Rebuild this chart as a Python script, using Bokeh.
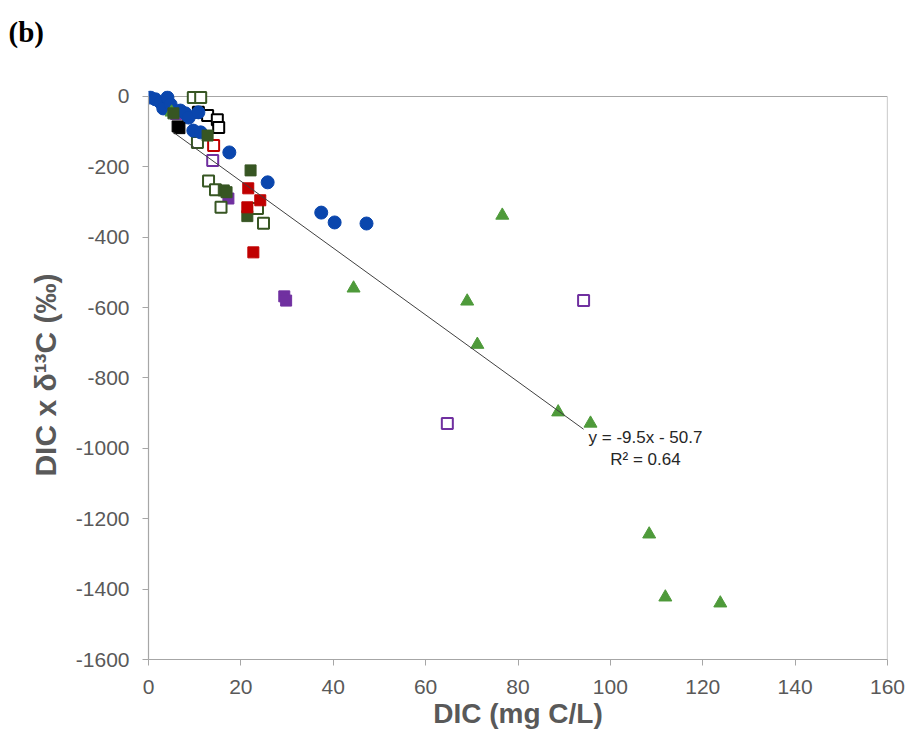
from bokeh.plotting import figure
from bokeh.models import Label, Range1d, FixedTicker, Title
from bokeh.embed import file_html
from bokeh.resources import INLINE

# ---- data ----
blue_x = [0.4, 1.5, 2.6, 3.2, 4.1, 4.8, 6.9, 8.0, 8.7, 9.7, 11.3, 10.8, 17.5, 25.8, 37.4, 40.3, 47.2]
blue_y = [-3, -8, -17, -34, -3, -23, -40, -48, -60, -97, -102, -45, -159, -244, -330, -358, -361]

tri_x = [5.0, 44.4, 69.0, 71.2, 76.6, 88.7, 95.7, 108.4, 111.9, 123.8]
tri_y = [-45, -545, -582, -705, -338, -897, -929, -1244, -1423, -1440]

dgreen_fill_x = [5.4, 12.8, 16.3, 16.9, 21.4, 22.1]
dgreen_fill_y = [-48, -111, -267, -272, -340, -210]

dgreen_open_x = [9.7, 11.3, 10.6, 13.0, 14.5, 15.7, 23.6, 24.9]
dgreen_open_y = [-3, -3, -131, -240, -265, -315, -318, -360]

red_fill_x = [21.6, 24.2, 21.4, 22.7]
red_fill_y = [-261, -295, -315, -443]
red_open_x = [14.1]
red_open_y = [-139]

purple_fill_x = [6.0, 17.3, 29.4, 29.8]
purple_fill_y = [-50, -290, -568, -580]
purple_open_x = [13.9, 94.2, 64.7]
purple_open_y = [-182, -580, -929]

black_fill_x = [6.3, 6.7]
black_fill_y = [-85, -90]
black_open_x = [10.8, 12.8, 14.9, 15.2]
black_open_y = [-45, -54, -66, -88]

slope = -9.5
intercept = -50.7
fit_x = [5.3, 94.2]
fit_y = [slope * v + intercept for v in fit_x]

x_ticks = [0, 20, 40, 60, 80, 100, 120, 140, 160]
y_ticks = [0, -200, -400, -600, -800, -1000, -1200, -1400, -1600]

X_MIN, X_MAX = x_ticks[0], x_ticks[-1]
Y_MIN, Y_MAX = y_ticks[-1], y_ticks[0]
Y_PAD = 17  # headroom so markers at y~0 are not clipped

# ---- figure ----
p = figure(width=911, height=742, output_backend="svg", toolbar_location=None,
           x_range=Range1d(X_MIN, X_MAX), y_range=Range1d(Y_MIN, Y_MAX + Y_PAD),
           min_border_left=148, min_border_right=24, min_border_top=90, min_border_bottom=83)

p.xgrid.visible = False
p.ygrid.visible = False
p.outline_line_color = None
p.background_fill_color = "white"
p.border_fill_color = "white"

FONT = "Liberation Sans"
GRAY = "#595959"
FRAME = "#a6a6a6"
for ax in (p.xaxis[0], p.yaxis[0]):
    ax.axis_line_color = FRAME
    ax.axis_line_width = 1.2
    ax.major_tick_line_color = FRAME
    ax.major_tick_in = 0
    ax.major_tick_out = 6
    ax.minor_tick_line_color = None
    ax.major_label_text_font = FONT
    ax.major_label_text_font_size = "21px"
    ax.major_label_text_color = GRAY
    ax.axis_label_text_font = FONT
    ax.axis_label_text_font_style = "bold"
    ax.axis_label_text_color = GRAY

p.xaxis.axis_label_text_font_size = "28px"
p.yaxis.axis_label_text_font_size = "30px"

p.xaxis.ticker = FixedTicker(ticks=x_ticks)
p.yaxis.ticker = FixedTicker(ticks=y_ticks)
p.yaxis.bounds = (Y_MIN, Y_MAX)
p.yaxis.major_label_overrides = {t: str(t) for t in y_ticks}
p.xaxis.axis_label = "DIC (mg C/L)"
p.yaxis.axis_label = "DIC x δ¹³C (‰)"
p.xaxis.major_label_standoff = 14
p.yaxis.major_label_standoff = 13
p.xaxis.axis_label_standoff = 1
p.yaxis.axis_label_standoff = 11

# plot-area border (top and right)
p.line([X_MIN, X_MAX, X_MAX], [Y_MAX, Y_MAX, Y_MIN], line_color=FRAME, line_width=1.2)

BLUE = "#0a46ad"
TGREEN = "#4e9a3a"
DGREEN = "#375623"
RED = "#c00000"
PURPLE = "#7030a0"

p.scatter(purple_fill_x, purple_fill_y, marker="square", size=11, fill_color=PURPLE, line_color=PURPLE)
p.scatter(dgreen_open_x, dgreen_open_y, marker="square", size=11, fill_color="white",
          line_color=DGREEN, line_width=2)
p.scatter(black_open_x, black_open_y, marker="square", size=11, fill_color="white",
          line_color="black", line_width=2)
p.scatter(red_open_x, red_open_y, marker="square", size=11, fill_color="white",
          line_color=RED, line_width=2)
p.scatter(purple_open_x, purple_open_y, marker="square", size=11, fill_color="white",
          line_color=PURPLE, line_width=2)
p.scatter(blue_x, blue_y, marker="circle", size=13, fill_color=BLUE, line_color=BLUE)
p.scatter(tri_x, tri_y, marker="triangle", size=13, fill_color=TGREEN, line_color=TGREEN)
p.scatter(dgreen_fill_x, dgreen_fill_y, marker="square", size=11, fill_color=DGREEN, line_color=DGREEN)
p.scatter(red_fill_x, red_fill_y, marker="square", size=11, fill_color=RED, line_color=RED)
p.scatter(black_fill_x, black_fill_y, marker="square", size=11, fill_color="black", line_color="black")

p.line(fit_x, fit_y, line_color="#404040", line_width=1)

p.add_layout(Label(x=107.6, y=-969, text="y = -9.5x - 50.7", text_align="center",
                   text_baseline="middle", text_font=FONT, text_font_size="17px",
                   text_color="#262626"))
p.add_layout(Label(x=107.6, y=-1031, text="R² = 0.64", text_align="center",
                   text_baseline="middle", text_font=FONT, text_font_size="17px",
                   text_color="#262626"))

p.add_layout(Title(text="(b)\n\u00a0", align="left", offset=-140, standoff=22,
                   text_font="Liberation Serif", text_font_size="29px",
                   text_font_style="bold", text_color="black"), "above")

open("out.html", "w").write(file_html(p, INLINE))
